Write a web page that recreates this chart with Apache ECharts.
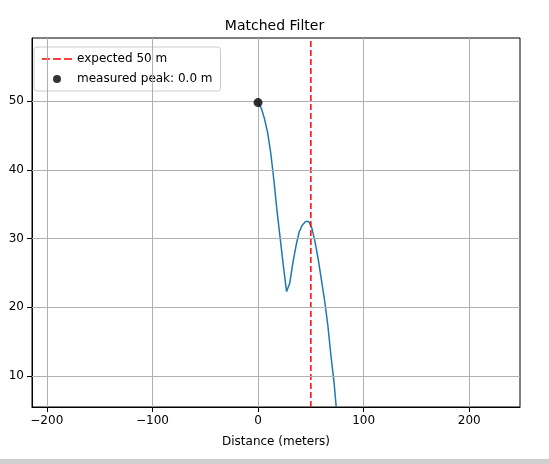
<!DOCTYPE html>
<html><head><meta charset="utf-8">
<script src="https://cdn.jsdelivr.net/npm/echarts@6/dist/echarts.min.js"></script>
<style>body{margin:0;background:#fff}#c{width:549px;height:464px}#bar{position:absolute;left:0;top:459px;width:549px;height:5px;background:#cfcfcf}</style>
</head><body><div id="c"></div><div id="bar"></div>
<script>
const distances = [0,3,6,9,12,15,18,21,24,27,30,33,36,39,42,45,48,51,54,57,60,63,66,69,72,74];
const response = [49.8,49,47.5,45.5,42.5,38.5,34,30,26,22.3,23.5,26.5,29,31,32,32.5,32.5,31.5,29.5,27,24,21,17.5,13,9,5.5];
const expectedDist = 50;
const peak = [0, 49.8];
const xTicks = [-200,-100,0,100,200];
const yTicks = [10,20,30,40,50];
const font = 'DejaVu Sans';
const chart = echarts.init(document.getElementById('c'));
chart.setOption({
  animation:false,
  textStyle:{fontFamily:font},
  title:{text:'Matched Filter',left:'center',top:14,textStyle:{fontFamily:font,fontSize:14,fontWeight:'normal',color:'#000'}},
  grid:{left:32,right:29,top:38,bottom:57,show:true,borderColor:'#000',borderWidth:1},
  legend:{left:34,top:47,orient:'vertical',itemGap:8,backgroundColor:'#fff',borderColor:'#ccc',borderWidth:1,borderRadius:3,padding:[6,8],
    textStyle:{fontFamily:font,fontSize:12,color:'#000'},
    data:[{name:'expected 50 m',icon:'path://M0,0h10v2h-10zM14,0h10v2h-10zM28,0h10v2h-10z',itemStyle:{color:'red'}},{name:'measured peak: 0.0 m',icon:'circle'}],itemWidth:30,itemHeight:8},
  xAxis:{type:'value',min:-214,max:248,
    name:'Distance (meters)',nameLocation:'middle',nameGap:29,nameTextStyle:{fontSize:12,color:'#000'},
    axisLine:{onZero:false,lineStyle:{color:'#000'}},axisTick:{show:true,customValues:xTicks,lineStyle:{color:'#000'}},
    axisLabel:{color:'#000',fontSize:12,customValues:xTicks,formatter:v=>v<0?'\u2212'+(-v):''+v},
    splitLine:{show:false}},
  yAxis:{type:'value',min:5.5,max:59.2,
    axisLine:{show:true,onZero:false,lineStyle:{color:'#000'}},axisTick:{show:true,customValues:yTicks,lineStyle:{color:'#000'}},
    axisLabel:{color:'#000',fontSize:12,customValues:yTicks},
    splitLine:{show:false}},
  series:[
    {type:'line',name:'grid',data:[],silent:true,markLine:{symbol:'none',silent:true,label:{show:false},lineStyle:{color:'#b0b0b0',type:'solid',width:1},data:yTicks.map(v=>({yAxis:v})).concat(xTicks.map(v=>({xAxis:v})))}},
    {type:'line',name:'signal',data:distances.map((d,i)=>[d,response[i]]),showSymbol:false,lineStyle:{color:'#1f77b4',width:1.5},itemStyle:{color:'#1f77b4'}},
    {type:'line',name:'expected 50 m',data:[[expectedDist,5.5],[expectedDist,59.2]],showSymbol:false,lineStyle:{color:'red',type:[6,3],width:1.5},itemStyle:{color:'red'}},
    {type:'scatter',name:'measured peak: 0.0 m',data:[peak],symbolSize:9,itemStyle:{color:'#000'},z:5}
  ]
});
</script></body></html>
